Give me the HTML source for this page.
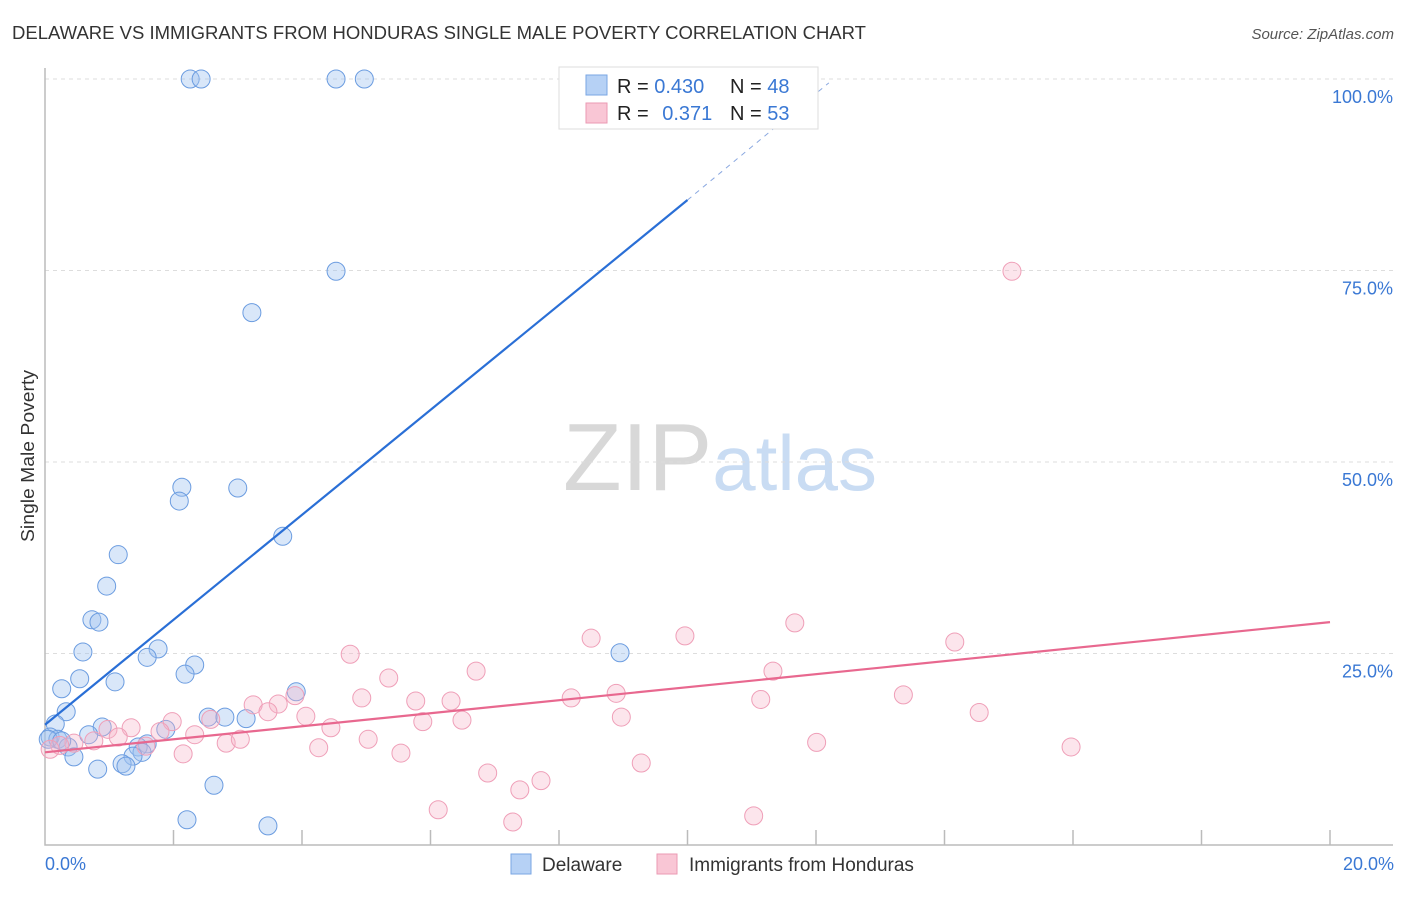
<!DOCTYPE html>
<html><head><meta charset="utf-8"><style>
body{margin:0;background:#fff;font-family:"Liberation Sans",sans-serif}
svg text{font-family:"Liberation Sans",sans-serif}
</style></head><body>
<svg id="chart" width="1406" height="892" viewBox="0 0 1406 892" xmlns="http://www.w3.org/2000/svg">
<text x="12" y="39" font-size="18" fill="#333" textLength="854" lengthAdjust="spacingAndGlyphs">DELAWARE VS IMMIGRANTS FROM HONDURAS SINGLE MALE POVERTY CORRELATION CHART</text>
<text x="1394" y="39" font-size="15" fill="#555" text-anchor="end" font-style="italic">Source: ZipAtlas.com</text>
<text x="720" y="490" font-size="96" text-anchor="middle" fill="#ddd" font-family="Liberation Serif"><tspan fill="#d8d8d8">ZIP</tspan><tspan fill="#c9dcf3" font-family="Liberation Sans" font-size="78">atlas</tspan></text>
<text transform="translate(34,456) rotate(-90)" font-size="18" fill="#333" text-anchor="middle" textLength="172" lengthAdjust="spacingAndGlyphs">Single Male Poverty</text>
<g id="grid"></g><g id="pts"></g><g id="lines"></g>
<g>
<rect x="559" y="67" width="259" height="62" fill="#fff" stroke="#ddd"/>
<rect x="586" y="75" width="21" height="20" fill="#b6d1f5" stroke="#7aa6e3"/>
<rect x="586" y="103" width="21" height="20" fill="#f9c6d5" stroke="#eb9ab3"/>
<text x="617" y="93" font-size="20" fill="#222">R = <tspan fill="#3a78d4">0.430</tspan></text>
<text x="730" y="93" font-size="20" fill="#222">N = <tspan fill="#3a78d4">48</tspan></text>
<text x="617" y="120" font-size="20" fill="#222">R = <tspan fill="#3a78d4" dx="8">0.371</tspan></text>
<text x="730" y="120" font-size="20" fill="#222">N = <tspan fill="#3a78d4">53</tspan></text>
</g>
<g>
<rect x="511" y="854" width="20" height="20" fill="#b6d1f5" stroke="#7aa6e3"/>
<text x="542" y="871" font-size="19" fill="#333">Delaware</text>
<rect x="657" y="854" width="20" height="20" fill="#f9c6d5" stroke="#eb9ab3"/>
<text x="689" y="871" font-size="19" fill="#333">Immigrants from Honduras</text>
</g>
<text x="45" y="870" font-size="18" fill="#3a78d4">0.0%</text>
<text x="1394" y="870" font-size="18" fill="#3a78d4" text-anchor="end">20.0%</text>
</svg>
<script>
const yTicks=[25,50,75,100];
const yTickLabels=["25.0%","50.0%","75.0%","100.0%"];
const blueX=[2.26,2.43,4.53,4.97,4.53,3.22,2.13,3.0,2.09,3.7,1.14,0.96,0.73,0.84,0.59,1.76,1.59,2.33,2.18,0.54,0.26,1.09,3.91,8.95,0.33,0.16,0.89,1.88,2.54,2.8,3.13,0.08,0.2,0.68,0.36,0.45,1.59,1.45,1.51,1.37,1.2,1.26,0.82,2.63,2.21,3.47,0.05,0.26];
const blueY=[100,100,100,100,74.9,69.5,46.7,46.6,44.9,40.3,37.9,33.8,29.4,29.1,25.2,25.6,24.5,23.5,22.3,21.7,20.4,21.3,20.0,25.1,17.4,15.8,15.4,15.1,16.7,16.7,16.5,14.1,13.8,14.4,12.8,11.5,13.2,12.8,12.1,11.6,10.6,10.3,9.9,7.8,3.3,2.5,13.8,13.6];
const pinkX=[15.05,11.67,9.96,8.5,14.16,4.75,6.71,11.33,5.35,13.36,8.89,4.93,3.89,3.63,3.24,5.77,6.32,8.19,11.14,14.54,4.06,3.47,8.97,2.58,6.49,5.88,1.98,1.34,0.98,4.45,2.33,1.79,1.14,5.03,12.01,15.97,2.82,3.04,4.26,1.57,2.15,5.54,0.76,0.45,0.23,0.08,9.28,6.89,7.72,7.39,6.12,7.28,11.03];
const pinkY=[74.9,29.0,27.3,27.0,26.5,24.9,22.7,22.7,21.8,19.6,19.8,19.2,19.5,18.4,18.3,18.8,18.8,19.2,19.0,17.3,16.8,17.4,16.7,16.4,16.3,16.1,16.1,15.3,15.1,15.3,14.4,14.8,14.1,13.8,13.4,12.8,13.3,13.8,12.7,12.9,11.9,12.0,13.6,13.3,13.0,12.5,10.7,9.4,8.4,7.2,4.6,3.0,3.8];
const blueLine=[[0,15.7],[10,84.2]], blueDash=[[10,84.2],[12.2,99.5]];
const pinkLine=[[0,12.1],[20,29.1]];
const NS="http://www.w3.org/2000/svg";
const X=v=>45+v*64.25, Y=v=>845-v*7.66;
function mk(p,t,a){const e=document.createElementNS(NS,t);for(const k in a)e.setAttribute(k,a[k]);p.appendChild(e);return e;}
const grid=document.getElementById('grid');
yTicks.forEach((t,i)=>{
 const l=mk(grid,'line',{x1:45,x2:1393,y1:Y(t),y2:Y(t),stroke:'#ddd','stroke-dasharray':'4,4'});
 
 
 const tx=mk(grid,'text',{x:1393,y:Y(t)+24,'font-size':18,fill:'#3a78d4','text-anchor':'end'});
 tx.textContent=yTickLabels[i];
 
 
});
const ax=mk(grid,'path',{d:'M45,68V845H1393',fill:'none',stroke:'#bbb','stroke-width':1.5});


for(let i=1;i<=10;i++){const t=mk(grid,'line',{x1:X(i*2),x2:X(i*2),y1:845,y2:830,stroke:'#bbb','stroke-width':1.5});
 
 }
const pts=document.getElementById('pts');
blueX.forEach((x,i)=>{const c=mk(pts,'circle',{cx:X(x),cy:Y(blueY[i]),r:9,fill:'rgba(160,196,240,0.4)',stroke:'#6b9ce0','stroke-width':1});
 
 });
pinkX.forEach((x,i)=>{const c=mk(pts,'circle',{cx:X(x),cy:Y(pinkY[i]),r:9,fill:'rgba(246,180,200,0.35)',stroke:'#ef9fb8','stroke-width':1});
 
 });
const lines=document.getElementById('lines');
let e=mk(lines,'line',{x1:X(blueLine[0][0]),y1:Y(blueLine[0][1]),x2:X(blueLine[1][0]),y2:Y(blueLine[1][1]),stroke:'#2a6fd6','stroke-width':2.2});


e=mk(lines,'line',{x1:X(blueDash[0][0]),y1:Y(blueDash[0][1]),x2:X(blueDash[1][0]),y2:Y(blueDash[1][1]),stroke:'#8aa8e0','stroke-width':1,'stroke-dasharray':'5,5'});


e=mk(lines,'line',{x1:X(pinkLine[0][0]),y1:Y(pinkLine[0][1]),x2:X(pinkLine[1][0]),y2:Y(pinkLine[1][1]),stroke:'#e8688f','stroke-width':2.2});


</script>
</body></html>
